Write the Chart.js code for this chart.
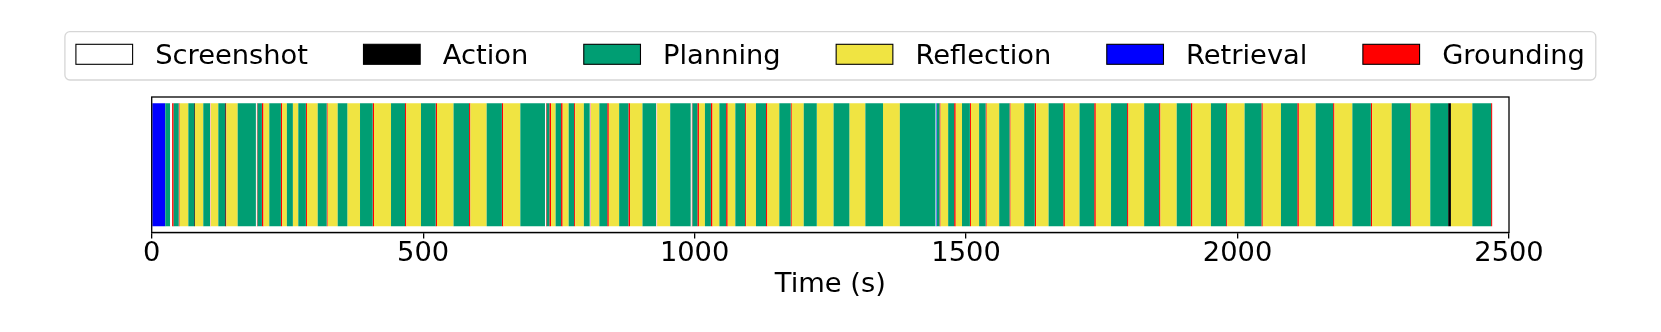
<!DOCTYPE html>
<html>
<head>
<meta charset="utf-8">
<script src="https://cdn.jsdelivr.net/npm/chart.js@4"></script>
<style>
    body { margin: 0; background: #ffffff; }
    #timeline-wrap { width: 1661px; height: 332px; }
</style>
</head>
<body>
<div id="timeline-wrap"><canvas id="timeline-chart"></canvas></div>
<script>
// -- data (seconds, [start, end]) --
const categories = ['Screenshot', 'Action', 'Planning', 'Reflection', 'Retrieval', 'Grounding'];
const categoryColors = ['#ffffff', '#000000', '#009E73', '#F0E442', '#0000FF', '#FF0000'];
const timeTicks = [0, 500, 1000, 1500, 2000, 2500];

const screenshotSegs = [[34, 37.5], [107.4, 108.2], [192, 193.5], [724.4, 726], [807, 808], [929, 930], [993, 994.5], [1444, 1445]];
const actionSegs = [[78.5, 79.7], [135, 136.2], [2388, 2393]];
const planningSegs = [
    [25, 34], [40.5, 49.7], [67.5, 78.5], [95, 107.4], [122.7, 135], [158.4, 192], [195, 203], [216.6, 238],
    [249, 260], [270, 284], [305.8, 322.3], [342.6, 360.3], [383.7, 407], [440.8, 466.6], [496, 523],
    [556, 584.5], [617, 645], [679, 724.4], [727.5, 732.4], [744, 754], [768, 778], [796, 807], [824.5, 839],
    [861, 878], [904, 929], [955, 993], [996, 1005], [1019, 1030], [1045.6, 1058], [1075, 1093], [1113, 1131.5],
    [1156, 1177], [1201, 1225], [1256, 1285], [1314.5, 1347], [1378, 1444], [1446.2, 1451], [1467, 1478],
    [1492.5, 1507], [1524, 1536], [1561, 1580], [1607, 1626.5], [1652, 1679], [1709, 1736], [1767, 1796.5],
    [1828, 1855.5], [1888, 1914], [1951, 1979], [2013, 2044], [2080, 2110], [2144, 2176], [2211.5, 2245.5],
    [2284, 2318], [2355, 2388], [2432.5, 2467]
];
const reflectionSegs = [
    [51.5, 67.5], [79.7, 95], [109, 122.7], [137.5, 158.4], [206, 216.6], [240.5, 249], [260, 270], [286, 305.8],
    [324.2, 342.6], [360.3, 383.7], [409.5, 440.8], [469, 496], [525.5, 556], [587, 617], [647.6, 679],
    [735.5, 744], [757, 768], [780, 796], [809, 824.5], [842, 861], [881, 904], [931, 955], [1008, 1019],
    [1033, 1045.6], [1061, 1075], [1095, 1113], [1134, 1156], [1179, 1201], [1225, 1256], [1285, 1314.5],
    [1347, 1378], [1453, 1467], [1481, 1492.5], [1509, 1524], [1538, 1561], [1582, 1607], [1629, 1652],
    [1682, 1709], [1739, 1767], [1799, 1828], [1858, 1888], [1917, 1951], [1981, 2013], [2046.5, 2080],
    [2113, 2144], [2178.5, 2211.5], [2248, 2284], [2320, 2355], [2393, 2432.5]
];
const retrievalSegs = [[0, 25], [1445, 1446.2]];
const groundingSegs = [
    [37.5, 40.5], [49.7, 51.5], [108.2, 109], [136.2, 137.5], [193.5, 195], [203, 206], [238, 240.5], [284, 286],
    [322.3, 324.2], [407, 409.5], [466.6, 469], [523, 525.5], [584.5, 587], [645, 647.6], [726, 727.5],
    [732.4, 735.5], [754, 757], [778, 780], [808, 809], [839, 842], [878, 881], [930, 931], [994.5, 996],
    [1005, 1008], [1030, 1033], [1058, 1061], [1093, 1095], [1131.5, 1134], [1177, 1179], [1451, 1453],
    [1478, 1481], [1507, 1509], [1536, 1538], [1580, 1582], [1626.5, 1629], [1679, 1682], [1736, 1739],
    [1796.5, 1799], [1855.5, 1858], [1914, 1917], [1979, 1981], [2044, 2046.5], [2110, 2113], [2176, 2178.5],
    [2245.5, 2248], [2318, 2320], [2467, 2469]
];
const segmentsByCategory = [screenshotSegs, actionSegs, planningSegs, reflectionSegs, retrievalSegs, groundingSegs];

const FONT = 'DejaVu Sans';
const FONT_SIZE = 27.3;

// -- legend drawn above the axes, matplotlib style --
const legendBoxPlugin = {
    id: 'legendBox',
    afterDraw(chart) {
        const ctx = chart.ctx;
        const handleW = 56.7, handleH = 20, textPad = 22.6, colGap = 55.5;
        ctx.save();
        ctx.font = FONT_SIZE + 'px "' + FONT + '"';
        let widths = chart.data.datasets.map(d => handleW + textPad + ctx.measureText(d.label).width);
        let total = widths.reduce((a, b) => a + b, 0) + colGap * (widths.length - 1);
        let center = (chart.chartArea.left + chart.chartArea.right) / 2;
        let x = center - total / 2;

        //Frame
        ctx.beginPath();
        ctx.roundRect(x - 11, 31.7, total + 22, 48.3, 5);
        ctx.fillStyle = '#ffffff';
        ctx.fill();
        ctx.strokeStyle = '#d6d6d6';
        ctx.lineWidth = 1.3;
        ctx.stroke();

        //Items
        chart.data.datasets.forEach((d, i) => {
            ctx.fillStyle = d.backgroundColor;
            ctx.fillRect(x, 44.3, handleW, handleH);
            ctx.strokeStyle = '#000000';
            ctx.lineWidth = 1.1;
            ctx.strokeRect(x, 44.3, handleW, handleH);
            ctx.fillStyle = '#000000';
            ctx.textBaseline = 'alphabetic';
            ctx.fillText(d.label, x + handleW + textPad, 64.3);
            x += widths[i] + colGap;
        });
        ctx.restore();
    }
};

// -- frame around the plot area --
const axesFramePlugin = {
    id: 'axesFrame',
    afterDatasetsDraw(chart) {
        const { ctx, chartArea } = chart;
        ctx.save();
        ctx.strokeStyle = '#000000';
        ctx.lineWidth = 1.3;
        ctx.strokeRect(chartArea.left, chartArea.top, chartArea.right - chartArea.left, chartArea.bottom - chartArea.top);
        ctx.restore();
    }
};

Chart.defaults.font.family = FONT;
Chart.defaults.color = '#000000';

new Chart(document.getElementById('timeline-chart'), {
    type: 'bar',
    data: {
        labels: ['run'],
        datasets: categories.map((name, i) => ({
            label: name,
            data: segmentsByCategory[i].map(s => ({ x: s, y: 'run' })),
            backgroundColor: categoryColors[i],
            borderWidth: 0,
            grouped: false,
            categoryPercentage: 1,
            barPercentage: 0.909
        }))
    },
    options: {
        indexAxis: 'y',
        responsive: true,
        maintainAspectRatio: false,
        animation: false,
        layout: { padding: { top: 97, left: 151.7, right: 152, bottom: 30.75 } },
        plugins: {
            legend: { display: false },
            tooltip: { enabled: false }
        },
        scales: {
            x: {
                type: 'linear',
                min: 0,
                max: 2500,
                afterBuildTicks: axis => { axis.ticks = timeTicks.map(v => ({ value: v })); },
                ticks: { padding: 0, font: { size: FONT_SIZE, lineHeight: 1.1 }, color: '#000000', callback: v => String(v) },
                grid: { drawOnChartArea: false, drawTicks: true, tickLength: 6, color: '#000000', lineWidth: 1.3 },
                border: { display: true, color: '#000000', width: 1.3 },
                title: { display: true, text: 'Time (s)', font: { size: FONT_SIZE }, padding: { top: 0, bottom: 0 }, color: '#000000' }
            },
            y: { display: false }
        }
    },
    plugins: [legendBoxPlugin, axesFramePlugin]
});
</script>
</body>
</html>
